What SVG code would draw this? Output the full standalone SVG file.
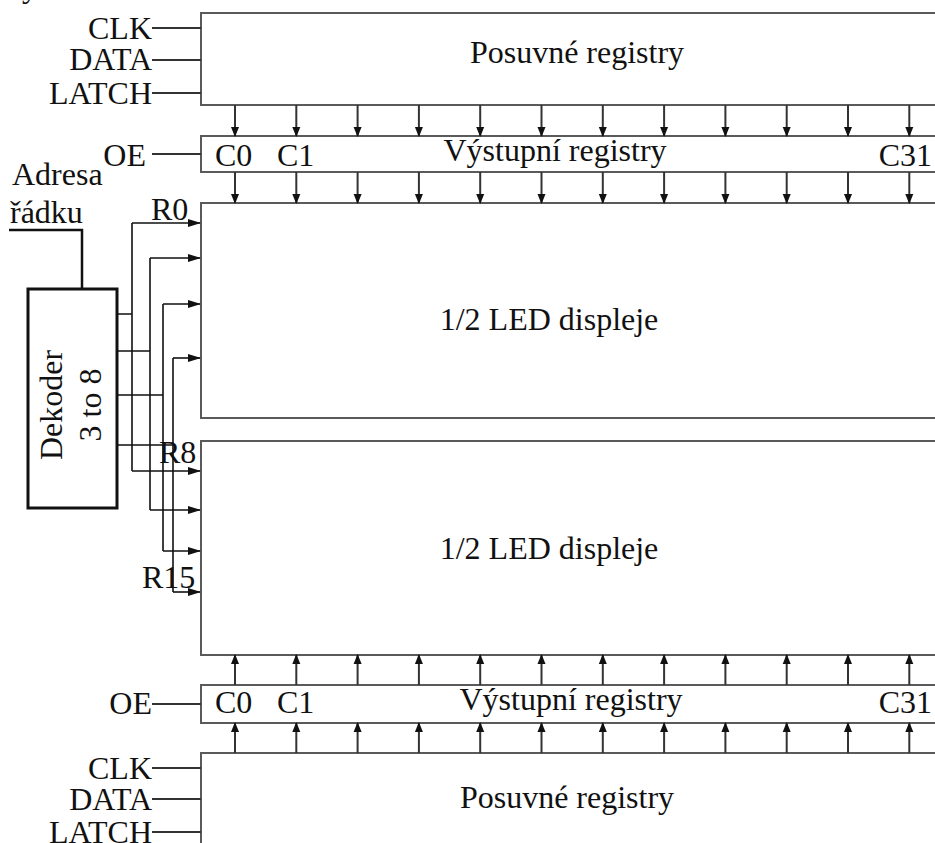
<svg xmlns="http://www.w3.org/2000/svg" width="935" height="843" viewBox="0 0 935 843" font-family="'Liberation Serif', 'DejaVu Serif', serif">
<style>
text{font-family:'Liberation Serif','DejaVu Serif',serif;font-size:32px;fill:#111}
.box{fill:#fff;stroke:#5a5a5a;stroke-width:2}
.dec{fill:#fff;stroke:#111;stroke-width:3}
.w{stroke:#333;stroke-width:2;fill:none}
.k{stroke:#111;stroke-width:1.6;fill:none}
.mid{text-anchor:middle}
.end{text-anchor:end}
</style>
<defs>
<marker id="ah" markerWidth="10" markerHeight="10" refX="9" refY="5" orient="auto" markerUnits="userSpaceOnUse">
<path d="M0,1 L10,5 L0,9 Z" fill="#111"/>
</marker>
<marker id="ahr" markerWidth="13" markerHeight="10" refX="12" refY="5" orient="auto" markerUnits="userSpaceOnUse">
<path d="M0,1 L13,5 L0,9 Z" fill="#111"/>
</marker>
</defs>
<text x="22" y="-3">y</text>

<g id="shift-top">
<rect class="box" x="201" y="13" width="760" height="92"/>
<text class="mid" x="577" y="63">Posuvné registry</text>
</g>
<g id="out-top">
<rect class="box" x="201" y="136" width="760" height="36"/>
<text x="215" y="166">C0</text>
<text x="277" y="166">C1</text>
<text class="mid" x="555" y="161">Výstupní registry</text>
<text class="end" x="932" y="166">C31</text>
</g>
<g id="disp-top">
<rect class="box" x="201" y="203" width="760" height="215"/>
<text class="mid" x="549" y="330">1/2 LED displeje</text>
</g>
<g id="disp-bottom">
<rect class="box" x="201" y="441" width="760" height="214"/>
<text class="mid" x="549" y="559">1/2 LED displeje</text>
</g>
<g id="out-bottom">
<rect class="box" x="201" y="685" width="760" height="38"/>
<text x="215" y="713">C0</text>
<text x="277" y="713">C1</text>
<text class="mid" x="571" y="710">Výstupní registry</text>
<text class="end" x="932" y="713">C31</text>
</g>
<g id="shift-bottom">
<rect class="box" x="201" y="753" width="760" height="110"/>
<text class="mid" x="567" y="808">Posuvné registry</text>
</g>
<g id="decoder">
<rect class="dec" x="28" y="289" width="89" height="219"/>
<text class="mid" transform="translate(62,405) rotate(-90)">Dekoder</text>
<text class="mid" transform="translate(101,405) rotate(-90)">3 to 8</text>
</g>
<g id="labels">
<text class="end" x="152" y="39">CLK</text>
<text class="end" x="152" y="70">DATA</text>
<text class="end" x="152" y="104">LATCH</text>
<text class="end" x="146" y="166">OE</text>
<text x="12" y="185">Adresa</text>
<text x="10" y="223">řádku</text>
<text x="151" y="220">R0</text>
<text x="159" y="463">R8</text>
<text x="142" y="588">R15</text>
<text class="end" x="152" y="714">OE</text>
<text class="end" x="152" y="779">CLK</text>
<text class="end" x="152" y="810">DATA</text>
<text class="end" x="152" y="843">LATCH</text>
</g>
<g id="connectors">
<path class="w" d="M152,28 H201 M152,60 H201 M152,93 H201 M152,154 H201 M152,704 H201 M152,768 H201 M152,799 H201 M152,832 H201"/>
<g class="w" marker-end="url(#ah)">
<path d="M235,105 V136"/><path d="M296.3,105 V136"/><path d="M357.6,105 V136"/><path d="M418.9,105 V136"/><path d="M480.2,105 V136"/><path d="M541.5,105 V136"/><path d="M602.8,105 V136"/><path d="M664.1,105 V136"/><path d="M725.4,105 V136"/><path d="M786.7,105 V136"/><path d="M848,105 V136"/><path d="M909.3,105 V136"/>
<path d="M235,172 V203"/><path d="M296.3,172 V203"/><path d="M357.6,172 V203"/><path d="M418.9,172 V203"/><path d="M480.2,172 V203"/><path d="M541.5,172 V203"/><path d="M602.8,172 V203"/><path d="M664.1,172 V203"/><path d="M725.4,172 V203"/><path d="M786.7,172 V203"/><path d="M848,172 V203"/><path d="M909.3,172 V203"/>
<path d="M235,685 V655"/><path d="M296.3,685 V655"/><path d="M357.6,685 V655"/><path d="M418.9,685 V655"/><path d="M480.2,685 V655"/><path d="M541.5,685 V655"/><path d="M602.8,685 V655"/><path d="M664.1,685 V655"/><path d="M725.4,685 V655"/><path d="M786.7,685 V655"/><path d="M848,685 V655"/><path d="M909.3,685 V655"/>
<path d="M235,753 V723"/><path d="M296.3,753 V723"/><path d="M357.6,753 V723"/><path d="M418.9,753 V723"/><path d="M480.2,753 V723"/><path d="M541.5,753 V723"/><path d="M602.8,753 V723"/><path d="M664.1,753 V723"/><path d="M725.4,753 V723"/><path d="M786.7,753 V723"/><path d="M848,753 V723"/><path d="M909.3,753 V723"/>
</g>
<path class="dec" style="fill:none;stroke-width:2.5" d="M9,230 H82 V289"/>
<path class="k" d="M117,314 H132 M117,351 H150 M117,395 H163 M117,445 H173"/>
<path class="k" d="M132,223 V471 M150,258 V510 M163,304 V551 M173,358 V592"/>
<g class="k" marker-end="url(#ahr)">
<path d="M132,223 H200"/><path d="M150,258 H200"/><path d="M163,304 H200"/><path d="M173,358 H200"/>
<path d="M132,471 H200"/><path d="M150,510 H200"/><path d="M163,551 H200"/><path d="M173,592 H200"/>
</g>
</g>
</svg>
